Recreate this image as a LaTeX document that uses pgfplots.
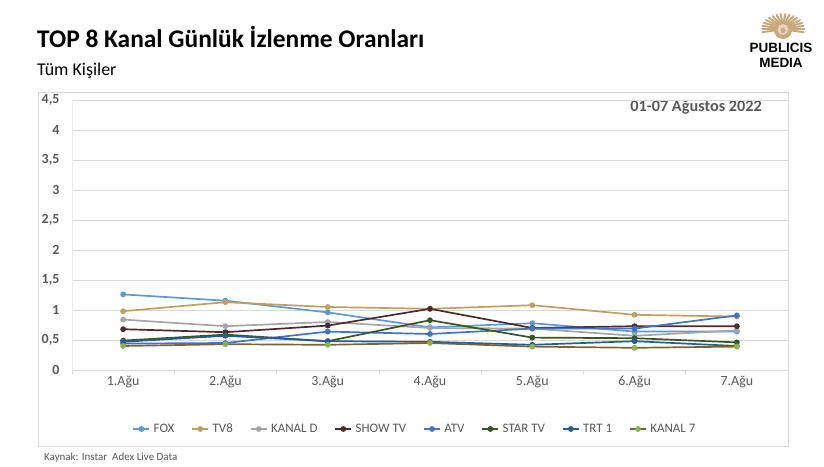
\documentclass[border=0pt]{standalone}
\usepackage{fontspec}
\setmainfont{Carlito}
\newfontfamily\logofont{Liberation Sans}
\usepackage{pgfplots}
\pgfplotsset{compat=1.18}
\definecolor{txtgray}{HTML}{595959}
\definecolor{gridgray}{HTML}{D9D9D9}
\definecolor{cfox}{HTML}{5B9BD5}
\definecolor{ctv8}{HTML}{C0A062}
\definecolor{ckanald}{HTML}{A5A5A5}
\definecolor{cshow}{HTML}{4F2A2D}
\definecolor{catv}{HTML}{4472C4}
\definecolor{cstar}{HTML}{375623}
\definecolor{ctrt}{HTML}{255E91}
\definecolor{ckanal7}{HTML}{7A6436}
\definecolor{ckanal7m}{HTML}{8DB050}
\definecolor{logotan}{HTML}{C9A97C}
\begin{document}
\begin{tikzpicture}
\path[use as bounding box] (0,0) rectangle (824bp,467bp);
% chart area border
\draw[gridgray, line width=0.6bp] (38bp,21bp) rectangle (788bp,375bp);
% titles
\node[anchor=base west, inner sep=0pt] at (37bp,419bp) {\fontsize{25.5}{30}\selectfont\bfseries TOP 8 Kanal Günlük İzlenme Oranları};
\node[anchor=base west, inner sep=0pt] at (37bp,391bp) {\fontsize{18}{21}\selectfont Tüm Kişiler};
\node[anchor=east, inner sep=0pt, text=txtgray] at (762bp,360bp) {\fontsize{16.3}{19}\selectfont\bfseries 01-07 Ağustos 2022};
\node[anchor=west, inner sep=0pt, text=txtgray] at (44bp,9bp) {\fontsize{11}{13}\selectfont Kaynak: Instar\ \ Adex Live Data};
% logo
\begin{scope}[shift={(783bp,438bp)}]
  \foreach \a in {-12,0,...,192} {
    \draw[logotan, line width=2bp, line cap=round] ({8bp*cos(\a)},{7bp*sin(\a)}) -- ({21bp*cos(\a)},{15bp*sin(\a)});
  }
  \fill[logotan] (0,-1bp) circle (9bp);
  \fill[white!50!logotan] (0,-0.5bp) circle (5.5bp);
  \fill[logotan] (0,-1.5bp) circle (2.5bp);
\end{scope}
\node[anchor=center, inner sep=0pt] at (781bp,419bp) {\logofont\bfseries\fontsize{13.5}{15}\selectfont PUBLICIS};
\node[anchor=center, inner sep=0pt] at (781bp,404bp) {\logofont\bfseries\fontsize{13.5}{15}\selectfont MEDIA};
\begin{axis}[
  at={(72bp,97bp)}, anchor=south west,
  scale only axis, width=716bp, height=270bp,
  xmin=-0.5, xmax=6.5, ymin=0, ymax=4.5,
  xtick={0,...,6},
  xticklabels={1.Ağu,2.Ağu,3.Ağu,4.Ağu,5.Ağu,6.Ağu,7.Ağu},
  minor xtick={-0.5,0.5,...,6.5},
  ytick={0,0.5,...,4.5},
  major tick length=0pt, minor tick length=4bp,
  tick align=outside,
  minor tick style={gridgray, line width=0.6bp},
  axis x line*=bottom, axis y line*=left,
  x axis line style={-, draw=gridgray, line width=0.75bp},
  y axis line style={-, draw=gridgray!50, line width=0.6bp},
  ymajorgrids, grid style={draw=gridgray, line width=0.75bp},
  /pgf/number format/assume math mode=true,
  yticklabel style={/pgf/number format/.cd, fixed, use comma, precision=1, /tikz/.cd,
    font=\bfseries\fontsize{14}{16}\selectfont, text=txtgray, xshift=-9bp},
  xticklabel style={font=\fontsize{14}{16}\selectfont, text=txtgray, yshift=-3bp},
  every axis plot/.append style={line width=1.7bp, mark=*, mark size=2bp},
  legend columns=8,
  legend style={draw=none, fill=none, at={(0.479,-0.2185)}, anchor=center,
    font=\fontsize{13}{15}\selectfont, text=txtgray,
    /tikz/every odd column/.append style={column sep=1.5bp},
    /tikz/every even column/.append style={column sep=15bp}},
  legend image code/.code={\draw[mark repeat=2,mark phase=2,#1] plot coordinates {(0bp,0bp) (8bp,0bp) (16bp,0bp)};},
]
\addplot[color=cfox, mark options={fill=cfox}] coordinates {(0,1.26) (1,1.155) (2,0.96) (3,0.71) (4,0.78) (5,0.64) (6,0.64)};
\addlegendentry{FOX}
\addplot[color=ctv8, mark options={fill=ctv8}] coordinates {(0,0.98) (1,1.13) (2,1.05) (3,1.02) (4,1.08) (5,0.92) (6,0.89)};
\addlegendentry{TV8}
\addplot[color=ckanald, mark options={fill=ckanald}] coordinates {(0,0.84) (1,0.73) (2,0.80) (3,0.70) (4,0.69) (5,0.57) (6,0.66)};
\addlegendentry{KANAL D}
\addplot[color=cshow, mark options={fill=cshow}] coordinates {(0,0.68) (1,0.63) (2,0.74) (3,1.02) (4,0.70) (5,0.73) (6,0.73)};
\addlegendentry{SHOW TV}
\addplot[color=catv, mark options={fill=catv}] coordinates {(0,0.44) (1,0.45) (2,0.64) (3,0.60) (4,0.69) (5,0.69) (6,0.91)};
\addlegendentry{ATV}
\addplot[color=cstar, mark options={fill=cstar}] coordinates {(0,0.49) (1,0.59) (2,0.48) (3,0.83) (4,0.54) (5,0.53) (6,0.46)};
\addlegendentry{STAR TV}
\addplot[color=ctrt, mark options={fill=ctrt}] coordinates {(0,0.47) (1,0.57) (2,0.48) (3,0.47) (4,0.42) (5,0.48) (6,0.40)};
\addlegendentry{TRT 1}
\addplot[color=ckanal7, mark options={fill=ckanal7m, draw=ckanal7m}] coordinates {(0,0.40) (1,0.43) (2,0.42) (3,0.45) (4,0.39) (5,0.37) (6,0.39)};
\addlegendentry{KANAL 7}
\end{axis}
\end{tikzpicture}
\end{document}
